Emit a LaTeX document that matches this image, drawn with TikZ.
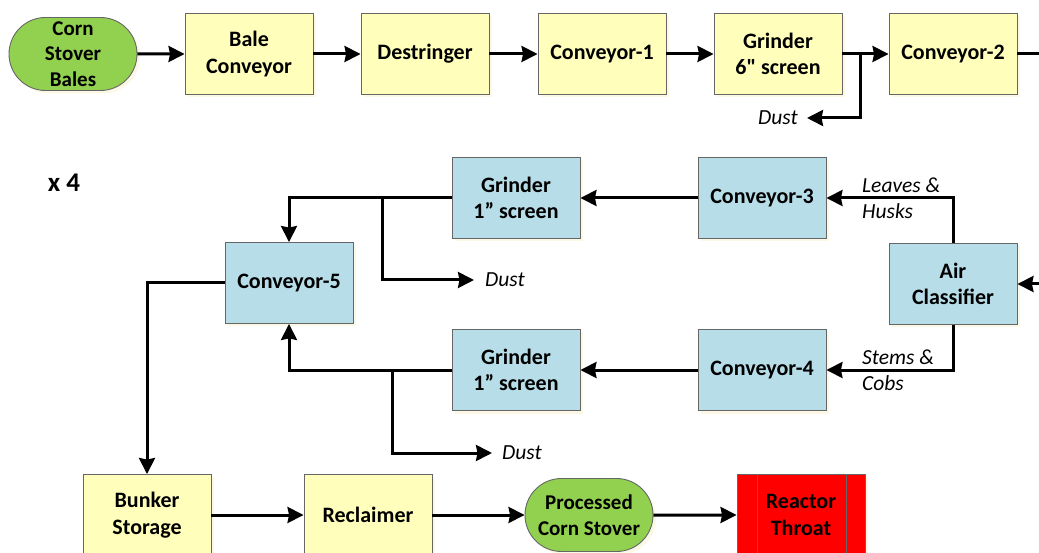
\documentclass[tikz,border=0pt]{standalone}
\usepackage{fontspec}
\setmainfont{Carlito}
\usetikzlibrary{arrows.meta,shapes.misc,shadows}
\definecolor{boxyellow}{RGB}{255,255,187}
\definecolor{boxblue}{RGB}{183,221,232}
\definecolor{termgreen}{RGB}{146,208,80}
\definecolor{shadowcol}{RGB}{248,244,205}

\begin{document}
\begin{tikzpicture}[x=1pt,y=-1pt]

\tikzstyle{box1}=[rectangle, draw=black!60, line width=0.9pt, fill=boxyellow, minimum width=128pt, minimum height=81pt, inner sep=0pt, align=center, font=\fontsize{22}{26.5}\selectfont\bfseries, drop shadow={shadow xshift=3pt, shadow yshift=-3pt, fill=shadowcol}]
\tikzstyle{box2}=[box1, fill=boxblue]
\tikzstyle{term}=[box1, rounded rectangle, fill=termgreen, minimum height=73pt, font=\fontsize{21}{25.5}\selectfont\bfseries]
\tikzstyle{proc}=[box1, fill=red, path picture={
   \draw[black!60, line width=0.9pt] ([xshift=20pt]path picture bounding box.north west) -- ([xshift=20pt]path picture bounding box.south west);
   \draw[black!60, line width=0.9pt] ([xshift=-19pt]path picture bounding box.north east) -- ([xshift=-19pt]path picture bounding box.south east);}]
\tikzstyle{arrow}=[-{Stealth[length=16pt,width=16pt,inset=1.5pt]}, line width=3pt]
\tikzstyle{line}=[line width=3pt]
\tikzstyle{note}=[font=\fontsize{21.5}{25.5}\selectfont\itshape, align=left, inner sep=0pt]

\path[use as bounding box, clip] (0,0) rectangle (1039,553);

\node (A) [term] at (73,54)    {Corn\\ Stover\\ Bales};
\node (B) [box1] at (249,54)   {Bale\\ Conveyor};
\node (C) [box1] at (425,54)   {Destringer};
\node (D) [box1] at (602,54)   {Conveyor-1};
\node (E) [box1] at (778,54)   {Grinder\\ 6\textquotedbl\ screen};
\node (F) [box1] at (953,54)   {Conveyor-2};

\node (X) at (64,183) {\fontsize{27}{30}\selectfont\bfseries x 4};

\node (G) [box2] at (516,198)  {Grinder\\ 1\textquotedblright\ screen};
\node (J) [box2] at (762,198)  {Conveyor-3};
\node (K) [box2] at (953,284)  {Air\\ Classifier};
\node (L) [box2] at (762,370)  {Conveyor-4};
\node (H) [box2] at (516,370)  {Grinder\\ 1\textquotedblright\ screen};
\node (M) [box2] at (289,283)  {Conveyor-5};

\node (N) [box1] at (147,515)  {Bunker\\ Storage};
\node (O) [box1] at (368,515)  {Reclaimer};
\node (P) [term] at (589,515)  {Processed\\ Corn Stover};
\node (Q) [proc] at (801,515)  {Reactor\\ Throat};

\node (U1) [note, anchor=east] at (798,118) {Dust};
\node (U2) [note, anchor=west] at (485,280) {Dust};
\node (U3) [note, anchor=west] at (502,453) {Dust};
\node (V1) [note, anchor=west] at (862,198) {Leaves \&\\ Husks};
\node (V2) [note, anchor=west] at (862,370) {Stems \&\\ Cobs};

\coordinate (in) at (1045,284);
\coordinate (out) at (1045,54);
\coordinate (e1) at (860,54);
\coordinate (g1) at (382,198);
\coordinate (h1) at (392,370);

\draw [arrow] (A) -- (B);
\draw [arrow] (B) -- (C);
\draw [arrow] (C) -- (D);
\draw [arrow] (D) -- (E);
\draw [arrow] (E) -- (F);
\draw [line] (F) -- (out);
\draw [arrow, shorten >=9pt] (e1) |- (U1.east);

\draw [arrow] (in) -- (K);
\draw [arrow] (K.north) |- (J.east);
\draw [arrow] (K.south) |- (L.east);
\draw [arrow] (J) -- (G);
\draw [arrow] (L) -- (H);
\draw [arrow] (G.west) -| (M.north);
\draw [arrow] (H.west) -| (M.south);
\draw [arrow, shorten >=11pt] (g1) |- (U2.west);
\draw [arrow, shorten >=10pt] (h1) |- (U3.west);
\draw [arrow] (M.west) -| (N.north);

\draw [arrow] (N) -- (O);
\draw [arrow] (O) -- (P);
\draw [arrow] (P) -- (Q);

\end{tikzpicture}
\end{document}
